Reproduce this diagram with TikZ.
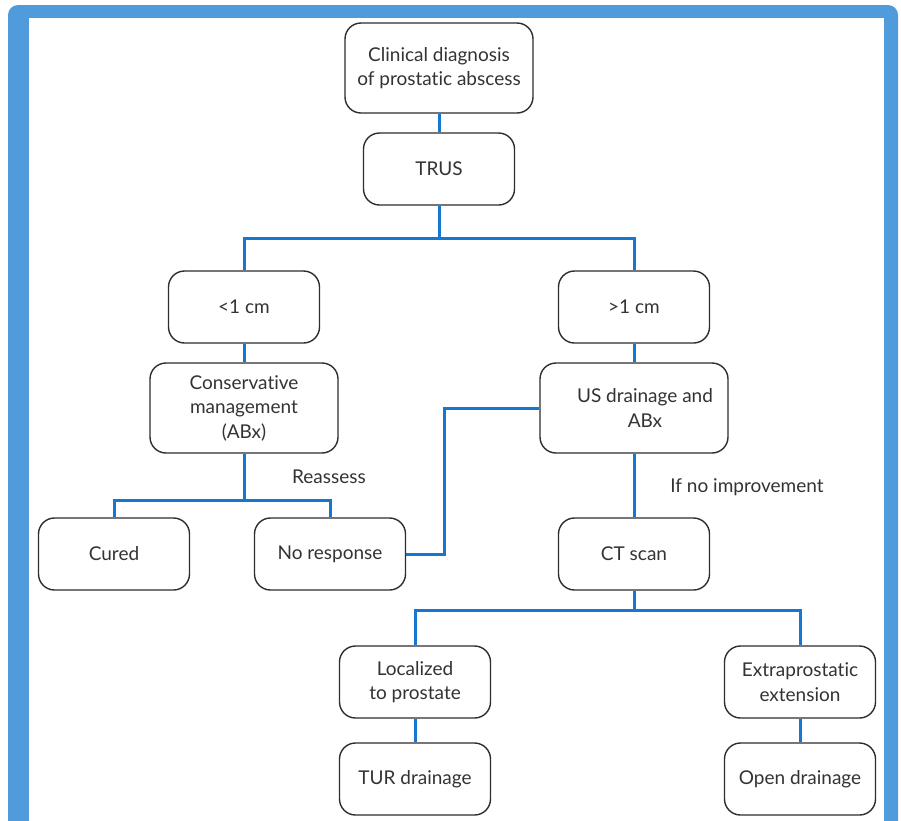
\documentclass[tikz,border=0pt]{standalone}
\usepackage{fontspec}
\setmainfont{Lato}[Ligatures=NoCommon]
\definecolor{frameblue}{HTML}{4F9BDC}
\definecolor{lineblue}{HTML}{1577D0}
\definecolor{boxgray}{HTML}{2E2E2E}
\definecolor{textgray}{HTML}{333333}
\begin{document}
\begin{tikzpicture}[x=1pt,y=-1pt,
  box/.style={draw=boxgray, line width=1.4pt, rounded corners=16pt, fill=white, align=center,
    font=\fontsize{19}{24.5}\selectfont, text=textgray, inner sep=0pt},
  small/.style={box, minimum width=151pt, minimum height=72pt},
  big/.style={box, minimum width=188pt, minimum height=90pt},
  conn/.style={draw=lineblue, line width=3pt},
  lbl/.style={font=\fontsize{19}{24.5}\selectfont, text=textgray, inner sep=0pt}]
\useasboundingbox (0,0) rectangle (901,820);
\fill[frameblue, rounded corners=10pt] (8,5) rectangle (898,860);
\fill[white] (29,18) rectangle (884,860);

\node[big] (clin) at (439,68) {Clinical diagnosis\\of prostatic abscess};
\node[small] (trus) at (439,169) {TRUS};
\node[small] (lt) at (244,307) {<1 cm};
\node[small] (gt) at (634,307) {>1 cm};
\node[big] (cons) at (244,408) {Conservative\\management\\(ABx)};
\node[big] (us) at (634,408) {\hspace*{22pt}US drainage and\\\hspace*{22pt}ABx};
\node[small] (cured) at (114,554) {Cured};
\node[small] (nores) at (330,554) {No response};
\node[small] (ct) at (634,554) {CT scan};
\node[small] (loc) at (415,682) {Localized\\to prostate};
\node[small] (ext) at (800,682) {Extraprostatic\\extension};
\node[small] (tur) at (415,779) {TUR drainage};
\node[small] (open) at (800,779) {Open drainage};

\node[lbl] (reassess) at (329,477) {Reassess};
\node[lbl] (noimp) at (747,487) {If no improvement};

\coordinate (j1) at (439,238);
\coordinate (j2) at (244,500);
\coordinate (j3) at (634,610);
\coordinate (k) at (444,480);

\draw[conn] (clin.south) -- (trus.north);
\draw[conn] (trus.south) -- (j1);
\draw[conn] (lt.north) |- (j1) -| (gt.north);
\draw[conn] (lt.south) -- (cons.north);
\draw[conn] (gt.south) -- (us.north);
\draw[conn] (cons.south) -- (j2);
\draw[conn] (cured.north) |- (j2) -| (nores.north);
\draw[conn] (nores.east) -- (nores.east -| k) |- (us.west);
\draw[conn] (us.south) -- (ct.north);
\draw[conn] (ct.south) -- (j3);
\draw[conn] (loc.north) |- (j3) -| (ext.north);
\draw[conn] (loc.south) -- (tur.north);
\draw[conn] (ext.south) -- (open.north);
\end{tikzpicture}
\end{document}
